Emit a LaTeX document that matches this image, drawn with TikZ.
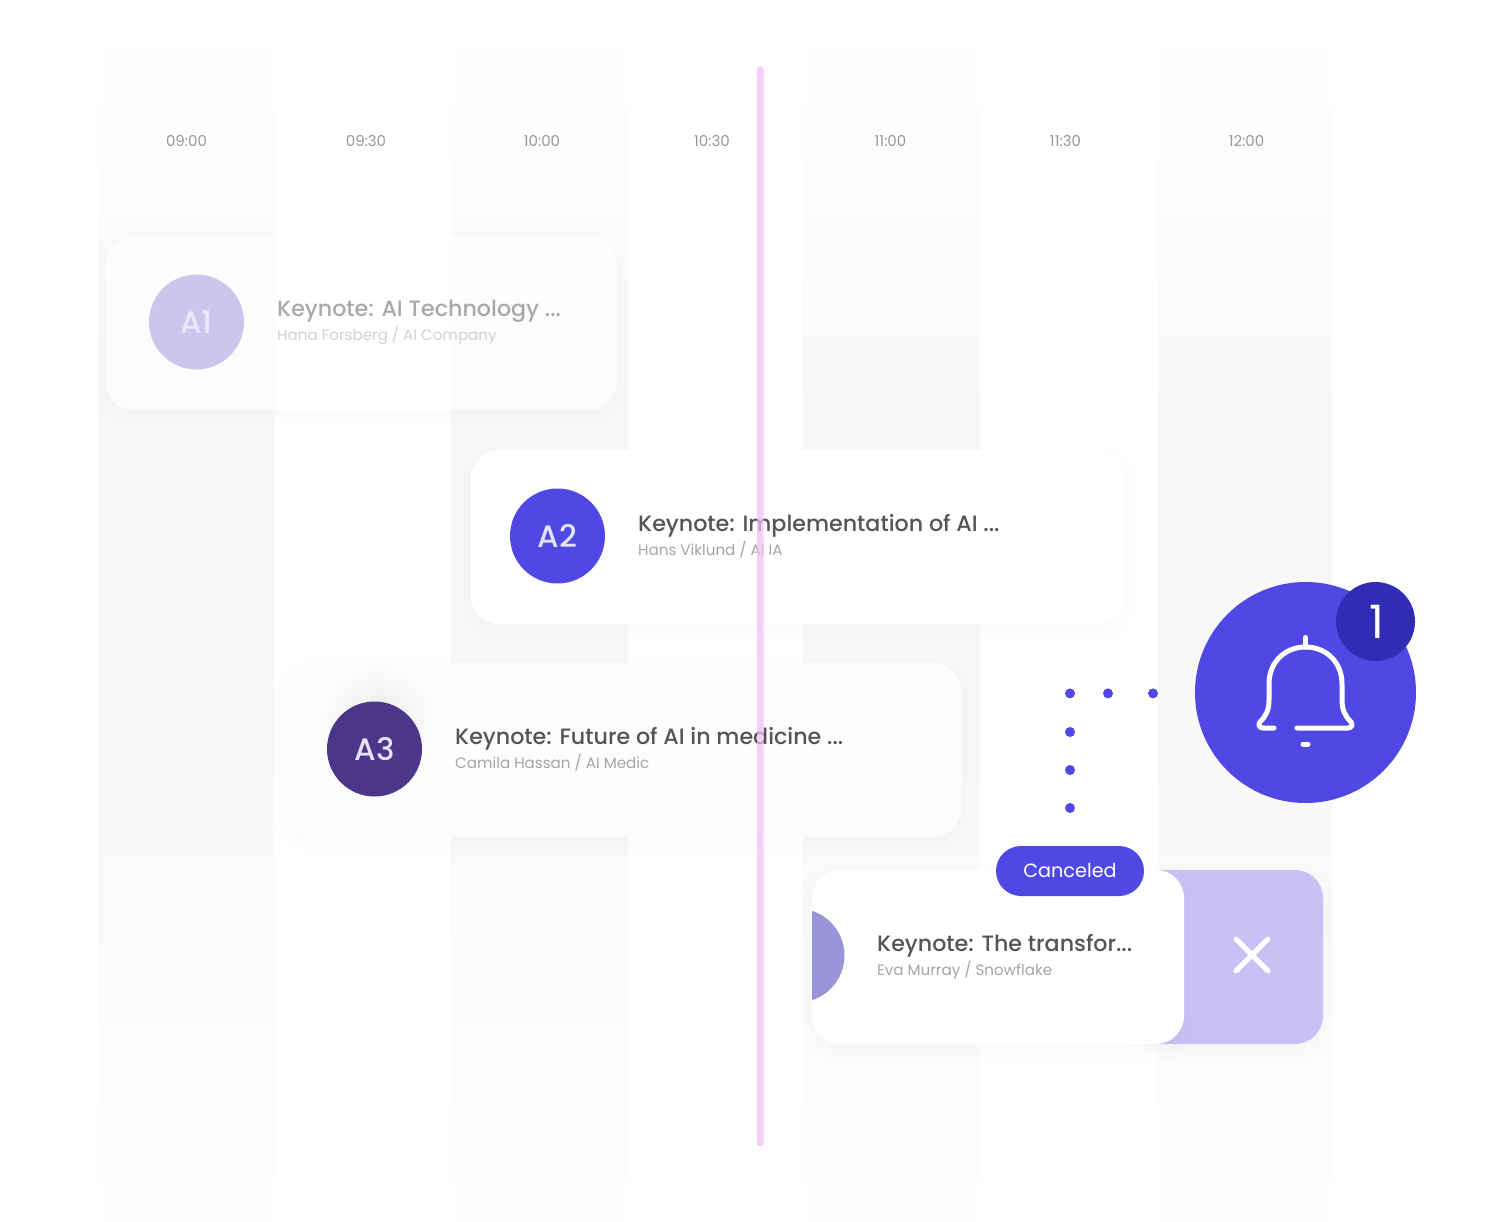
\documentclass[tikz,border=0pt]{standalone}
\usepackage{fontspec}
\setmainfont{Poppins}
\newfontfamily\popmedium{Poppins Medium}
\usetikzlibrary{positioning}
\definecolor{indigo}{HTML}{5048E5}
\definecolor{indigodark}{HTML}{322BB3}
\definecolor{plum}{HTML}{4B3689}
\definecolor{lilac}{HTML}{C7C2F3}
\definecolor{paleavatar}{HTML}{CBC7EC}
\definecolor{cutavatar}{HTML}{9A94D9}
\definecolor{pinkline}{HTML}{F1BCF8}
\definecolor{titlegray}{HTML}{555555}
\definecolor{subgray}{HTML}{A5A5A8}
\definecolor{timegray}{HTML}{999999}
\definecolor{colgray}{HTML}{F8F8F8}
\definecolor{colend}{HTML}{FEFEFE}
\definecolor{cardgray}{HTML}{FDFDFD}
\tikzset{
  x=1pt,y=-1pt,
  avatar/.style={circle,minimum size=95pt,inner sep=0pt,font=\popmedium\fontsize{31}{32}\selectfont},
  dotmark/.style={circle,fill=indigo,minimum size=10pt,inner sep=0pt},
  timelabel/.style={font=\fontsize{15}{16}\selectfont,text=timegray},
  titlelabel/.style={anchor=base west,inner sep=0pt,font=\popmedium\fontsize{22.2}{24}\selectfont,text=titlegray},
  sublabel/.style={anchor=base west,inner sep=0pt,font=\fontsize{15.1}{16}\selectfont,text=subgray},
  bellline/.style={white,line width=5pt,line cap=round,line join=round},
}
\newcommand{\softshadow}[4]{%
  \begin{scope}[even odd rule]
    \clip[rounded corners=28pt] (-100,-100) rectangle (1600,1400) (#1,#2) rectangle (#3,#4);
    \foreach \k in {0,4,...,12}
      \fill[black,opacity=.005,rounded corners=28pt+\k*.5pt]
        (#1-\k,#2+6-\k) rectangle (#3+\k,#4+6+\k);
  \end{scope}
}
\begin{document}
\begin{tikzpicture}

\useasboundingbox (0,0) rectangle (1500,1222);
\fill[white] (0,0) rectangle (1500,1222);

\foreach \colx/\colw in {98/177,451/177,803/177,1157/175} {
  \shade[top color=white,bottom color=colgray] (\colx,20) rectangle +(\colw,400);
  \fill[colgray] (\colx,420) rectangle +(\colw,320);
  \shade[top color=colgray,bottom color=colend] (\colx,740) rectangle +(\colw,482);
}

\node[timelabel] (t0900) at (186.5,141) {09:00};
\node[timelabel] (t0930) at (366,141) {09:30};
\node[timelabel] (t1000) at (542,141) {10:00};
\node[timelabel] (t1030) at (712,141) {10:30};
\node[timelabel] (t1100) at (890.5,141) {11:00};
\node[timelabel] (t1130) at (1065.5,141) {11:30};
\node[timelabel] (t1200) at (1246.5,141) {12:00};

\softshadow{106}{236}{617}{410}
\fill[white,opacity=.6,rounded corners=28pt] (106,236) rectangle (617,410);
\node[avatar,fill=paleavatar,text=white!88!indigo] (A1) at (196.5,322) {\raisebox{-1pt}{A1}};
\node[titlelabel,opacity=.5] (A1title) at (277,317) {Keynote: AI Technology ...};
\node[sublabel,opacity=.5] (A1sub) at (277,341) {Hana Forsberg / AI Company};

\softshadow{471}{450}{1124}{624}
\fill[white,rounded corners=28pt] (471,450) rectangle (1124,624);
\node[avatar,fill=indigo,text=white!85!indigo] (A2) at (557.5,536) {\raisebox{-1pt}{A2}};
\node[titlelabel] (A2title) at (638,531) {Keynote: Implementation of AI ...};
\node[sublabel] (A2sub) at (638,555) {Hans Viklund / AI IA};

\softshadow{287}{663}{961}{837}
\fill[cardgray,rounded corners=28pt] (287,663) rectangle (961,837);
\shade[inner color=black!8,outer color=cardgray] (378,722) circle (60);
\node[avatar,fill=plum,text=white!85!indigo] (A3) at (374.5,749) {\raisebox{-1pt}{A3}};
\node[titlelabel] (A3title) at (455,744) {Keynote: Future of AI in medicine ...};
\node[sublabel] (A3sub) at (455,768) {Camila Hassan / AI Medic};

\softshadow{1150}{870}{1323}{1044}
\fill[lilac,rounded corners=28pt] (1100,870) rectangle (1323,1044);
\draw[white,line width=5pt,line cap=round] (1236,939) -- (1268,971) (1268,939) -- (1236,971);
\softshadow{812}{870}{1184}{1044}
\fill[white,rounded corners=28pt] (812,870) rectangle (1184,1044);
\begin{scope}
  \clip (812,870) rectangle (1000,1044);
  \fill[cutavatar] (797.5,955.5) circle (47);
\end{scope}
\node[titlelabel] (A4title) at (877,951) {Keynote: The transfor...};
\node[sublabel] (A4sub) at (877,975) {Eva Murray / Snowflake};
\node[fill=indigo,text=white,rounded corners=25pt,minimum width=148pt,minimum height=50pt,inner sep=0pt,font=\fontsize{19.2}{20}\selectfont] (cancel) at (1070,871) {\raisebox{1pt}{Canceled}};

\fill[pinkline,opacity=.7,rounded corners=2pt] (757,67) rectangle (763.5,1146);

\node[dotmark] (d1) at (1070,693.4) {};
\node[dotmark] (d2) at (1108,693.4) {};
\node[dotmark] (d3) at (1153,693.4) {};
\node[dotmark] (d4) at (1070,732) {};
\node[dotmark] (d5) at (1070,770) {};
\node[dotmark] (d6) at (1070,808) {};

\node[circle,fill=indigo,minimum size=221pt,inner sep=0pt] (bell) at (1305.5,692.5) {};
\node[circle,fill=indigodark,minimum size=79pt,inner sep=0pt,text=white,font=\fontsize{46}{46}\selectfont] (badge) at (1375.5,621.5) {\hspace{3pt}1};
\draw[bellline] (1305.5,637.5) -- (1305.5,647);
\draw[bellline] (1274,728) -- (1263,728) .. controls (1259,728) and (1258,724) .. (1260,722)
  .. controls (1266,716) and (1269,710) .. (1269,700) -- (1269,684)
  .. controls (1269,662) and (1285,647) .. (1305.5,647)
  .. controls (1326,647) and (1342,662) .. (1342,684) -- (1342,700)
  .. controls (1342,710) and (1345,716) .. (1351,722)
  .. controls (1353,724) and (1352,728) .. (1348,728) -- (1297,728);
\draw[bellline] (1303,744) -- (1308,744);

\end{tikzpicture}
\end{document}
